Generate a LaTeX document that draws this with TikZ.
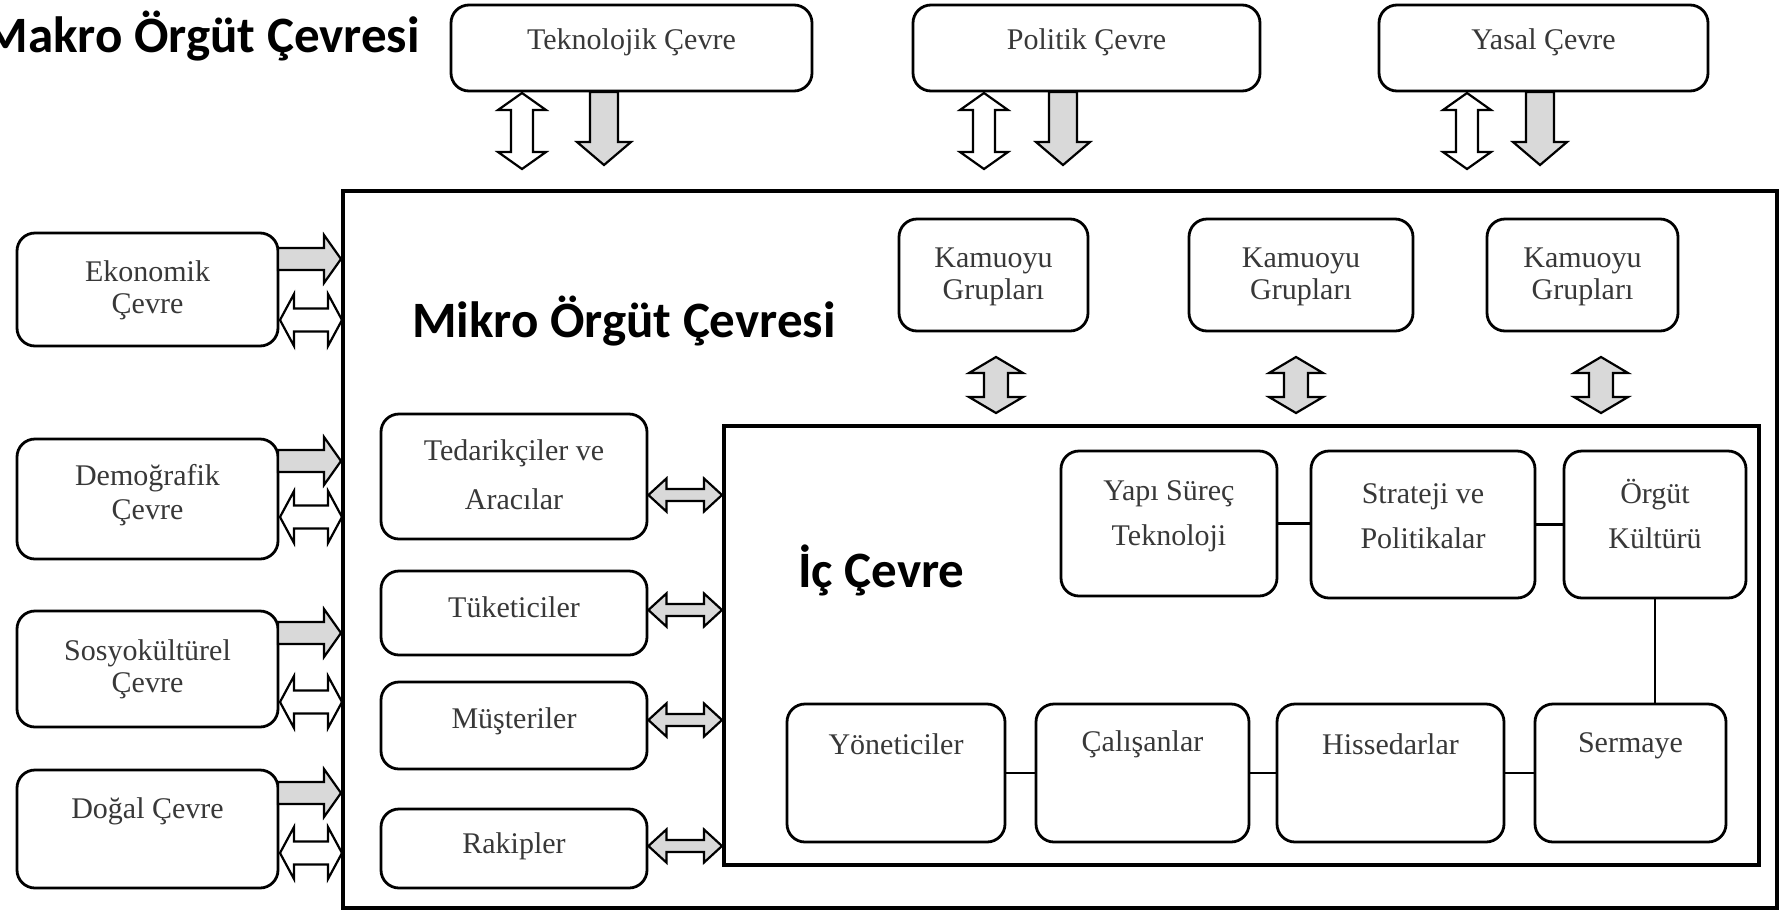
\documentclass[tikz,border=0pt]{standalone}
\usepackage{fontspec}
\setmainfont{Liberation Serif}
\newfontfamily\headfont{Carlito}
\usetikzlibrary{calc}

\tikzset{
  rbox/.style={draw=black, line width=2.8pt, rounded corners=18pt, fill=white, inner sep=0pt},
  frame/.style={draw=black, line width=4pt, inner sep=0pt},
  txt/.style={text=black!78, font=\fontsize{30}{32}\selectfont, align=center, inner sep=0pt},
  head/.style={font=\headfont\bfseries\fontsize{51}{60}\selectfont, inner sep=0pt, text=black},
  link/.style={draw=black, line width=2.8pt},
  grayarrow/.style={draw=black, line width=2.2pt, fill=gray!30, line join=miter},
  whitearrow/.style={draw=black, line width=2.2pt, fill=white, line join=miter},
}

% block arrow with one head: #1 style, #2 tail, #3 tip,
% #4 half shaft width, #5 half head width, #6 head length
\newcommand\arrowone[6]{%
  \path[#1] let \p1=(#2), \p2=(#3),
    \n1={atan2(\y2-\y1,\x2-\x1)}, \n2={veclen(\x2-\x1,\y2-\y1)} in
    [shift={(\p1)}, rotate=\n1]
    (0,-#4) -- ({\n2-#6},-#4) -- ({\n2-#6},-#5) -- (\n2,0)
    -- ({\n2-#6},#5) -- ({\n2-#6},#4) -- (0,#4) -- cycle;}

% block arrow with two heads, same arguments
\newcommand\arrowtwo[6]{%
  \path[#1] let \p1=(#2), \p2=(#3),
    \n1={atan2(\y2-\y1,\x2-\x1)}, \n2={veclen(\x2-\x1,\y2-\y1)} in
    [shift={(\p1)}, rotate=\n1]
    (0,0) -- (#6,-#5) -- (#6,-#4) -- ({\n2-#6},-#4) -- ({\n2-#6},-#5) -- (\n2,0)
    -- ({\n2-#6},#5) -- ({\n2-#6},#4) -- (#6,#4) -- (#6,#5) -- cycle;}

% rounded box #1 spanning x #2..#3, y #4..#5, text #7 centred at height #6
\newcommand\tbox[7]{%
  \node[rbox, minimum width={#3-#2}, minimum height={#5-#4}] (#1)
    at ({(#2+#3)/2},{(#4+#5)/2}) {};
  \node[txt] (#1-t) at ({(#2+#3)/2},#6) {#7};}

\begin{document}
\begin{tikzpicture}[x=1pt,y=-1pt]
\useasboundingbox (0,0) rectangle (1780,911);
\fill[white] (0,0) rectangle (1780,911);
\clip (0,0) rectangle (1780,911);

% frames of the micro and inner environments
\node[frame, minimum width=1434, minimum height=717] (mikro) at (1060,549.5) {};
\node[frame, minimum width=1035, minimum height=439] (ic) at (1241.5,645.5) {};

% headings
\node[head, anchor=base east] (makro-t) at (420,52) {Makro Örgüt Çevresi};
\node[head, anchor=base west] (mikro-t) at (412,337) {Mikro Örgüt Çevresi};
\node[head, anchor=base west] (ic-t) at (798,587) {İç Çevre};

% macro environment
\tbox{tek}{451}{812}{5}{91}{42}{Teknolojik Çevre}
\tbox{pol}{913}{1260}{5}{91}{42}{Politik Çevre}
\tbox{yas}{1379}{1708}{5}{91}{42}{Yasal Çevre}
\tbox{eko}{17}{278}{233}{346}{290}{Ekonomik\\Çevre}
\tbox{dem}{17}{278}{439}{559}{495}{Demoğrafik\\[2pt]Çevre}
\tbox{sos}{17}{278}{611}{727}{669}{Sosyokültürel\\Çevre}
\tbox{dog}{17}{278}{770}{888}{811}{Doğal Çevre}

% micro environment
\tbox{ka1}{899}{1088}{219}{331}{277}{Kamuoyu\\Grupları}
\tbox{ka2}{1189}{1413}{219}{331}{277}{Kamuoyu\\Grupları}
\tbox{ka3}{1487}{1678}{219}{331}{277}{Kamuoyu\\Grupları}
\tbox{ted}{381}{647}{414}{539}{475}{Tedarikçiler ve\\[17pt]Aracılar}
\tbox{tuk}{381}{647}{571}{655}{607}{Tüketiciler}
\tbox{mus}{381}{647}{682}{769}{721}{Müşteriler}
\tbox{rak}{381}{647}{809}{888}{846}{Rakipler}

% inner environment
\tbox{yap}{1061}{1277}{451}{596}{516}{Yapı Süreç\\[13pt]Teknoloji}
\tbox{str}{1311}{1535}{451}{598}{516}{Strateji ve\\[13pt]Politikalar}
\tbox{org}{1564}{1746}{451}{598}{514}{Örgüt\\[13pt]Kültürü}
\tbox{yon}{787}{1005}{704}{842}{744}{Yöneticiler}
\tbox{cal}{1036}{1249}{704}{842}{744}{Çalışanlar}
\tbox{his}{1277}{1504}{704}{842}{744}{Hissedarlar}
\tbox{ser}{1535}{1726}{704}{842}{746}{Sermaye}

\draw[link] (yap.east) -- (yap.east -| str.west);
\draw[link] (str.east) -- (str.east -| org.west);
\draw[link] (org.south) -- (org.south |- ser.north);
\draw[link] (yon.east) -- (cal.west);
\draw[link] (cal.east) -- (his.west);
\draw[link] (his.east) -- (ser.west);

% arrows below the top boxes
\foreach \x [count=\i] in {522,984,1467} {
  \coordinate (tw\i-a) at (\x,93);
  \coordinate (tw\i-b) at (\x,169);
  \arrowtwo{whitearrow}{tw\i-a}{tw\i-b}{11}{24}{17}
}
\foreach \x [count=\i] in {604,1063,1540} {
  \coordinate (tg\i-a) at (\x,92);
  \coordinate (tg\i-b) at (\x,165);
  \arrowone{grayarrow}{tg\i-a}{tg\i-b}{14}{27}{23}
}

% arrows from the left boxes into the micro environment
\foreach \yy [count=\i] in {259,461,633,793} {
  \coordinate (lg\i-a) at (278,\yy);
  \coordinate (lg\i-b) at (mikro.west |- 0,\yy);
  \arrowone{grayarrow}{lg\i-a}{lg\i-b}{11}{24}{17}
}
\foreach \yy [count=\i] in {320,517,702,853} {
  \coordinate (lw\i-a) at (280,\yy);
  \coordinate (lw\i-b) at (342,\yy);
  \arrowtwo{whitearrow}{lw\i-a}{lw\i-b}{11.5}{26}{14}
}

% public groups <-> inner environment
\foreach \x [count=\i] in {996,1296,1601} {
  \coordinate (kg\i-a) at (\x,357);
  \coordinate (kg\i-b) at (\x,413);
  \arrowtwo{grayarrow}{kg\i-a}{kg\i-b}{12}{27}{16}
}

% micro actors <-> inner environment
\foreach \nm/\yy [count=\i] in {ted/495,tuk/610,mus/720,rak/846} {
  \coordinate (ma\i-a) at (\nm.east |- 0,\yy);
  \coordinate (ma\i-b) at (ic.west |- 0,\yy);
  \arrowtwo{grayarrow}{ma\i-a}{ma\i-b}{6}{16.5}{18}
}
\end{tikzpicture}
\end{document}
